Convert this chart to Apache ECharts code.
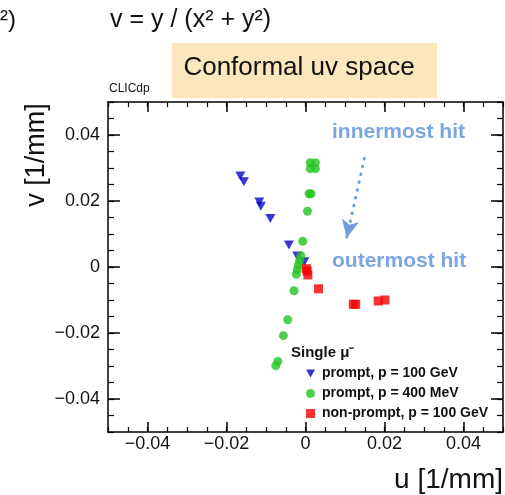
<!DOCTYPE html>
<html>
<head>
<meta charset="utf-8">
<script src="https://cdn.jsdelivr.net/npm/echarts@6/dist/echarts.min.js"></script>
<style>
  html, body { margin: 0; padding: 0; background: #fff; }
  #chart { width: 505px; height: 495px; }
</style>
</head>
<body>
<div id="chart"></div>
<script>
// prompt, p = 100 GeV  [u, v]
var promptHigh = [
  [-0.0165, 0.0276], [-0.0156, 0.0258], [-0.0117, 0.0197], [-0.0113, 0.0184],
  [-0.0089, 0.0147], [-0.0042, 0.0067], [-0.0021, 0.0033], [-0.0003, 0.0016]
];
// prompt, p = 400 MeV
var promptLow = [
  [0.0012, 0.0316], [0.0025, 0.0316], [0.0012, 0.0298], [0.0025, 0.0298],
  [0.0009, 0.0222], [0.0014, 0.0222], [0.0005, 0.0169], [-0.0007, 0.0078],
  [-0.0012, 0.0034], [-0.0015, 0.0020], [-0.0018, 0.0006], [-0.0021, -0.0008],
  [-0.0023, -0.0022], [-0.0029, -0.0072], [-0.0045, -0.0160], [-0.0056, -0.0208],
  [-0.0070, -0.0286], [-0.0075, -0.0299]
];
// non-prompt, p = 100 GeV
var nonPrompt = [
  [0.0002, -0.0005], [0.0004, -0.0012], [0.0006, -0.0024], [0.0033, -0.0066],
  [0.0121, -0.0113], [0.0127, -0.0113], [0.0184, -0.0103], [0.0201, -0.0100]
];
var majorTicks = [-0.04, -0.02, 0, 0.02, 0.04];
var seriesNames = ["prompt, p = 100 GeV", "prompt, p = 400 MeV", "non-prompt, p = 100 GeV"];

var FONT = "Liberation Sans, Arial, Helvetica, sans-serif";
var downTri = "path://M0,0L10,0L5,9Z";

function fmt(v) {
  if (Math.abs(v) < 1e-9) return "0";
  return (v < 0 ? "\u2212" : "") + Math.abs(v).toFixed(2);
}

// minor ticks axis (every 0.005) + major ticks/labels axis, per side
function xAx(pos, major) {
  return {
    type: "value", position: pos, min: -0.05, max: 0.05,
    interval: 0.005,
    axisLine: { show: !major, onZero: false, lineStyle: { color: "#000", width: 1.5 } },
    axisTick: major
      ? { show: true, inside: true, length: 10, customValues: majorTicks, lineStyle: { color: "#000", width: 1.5 } }
      : { show: true, inside: true, length: 5, lineStyle: { color: "#000", width: 1.2 } },
    axisLabel: (major && pos === "bottom")
      ? { show: true, customValues: majorTicks, formatter: fmt, margin: 3, fontSize: 18, color: "#111", fontFamily: FONT }
      : { show: false },
    splitLine: { show: false }
  };
}
function yAx(pos, major) {
  return {
    type: "value", position: pos, min: -0.05, max: 0.05,
    interval: 0.005,
    axisLine: { show: !major, onZero: false, lineStyle: { color: "#000", width: 1.5 } },
    axisTick: major
      ? { show: true, inside: true, length: 12, customValues: majorTicks, lineStyle: { color: "#000", width: 1.5 } }
      : { show: true, inside: true, length: 6, lineStyle: { color: "#000", width: 1.2 } },
    axisLabel: (major && pos === "left")
      ? { show: true, customValues: majorTicks, formatter: fmt, margin: 8, fontSize: 18, color: "#111", fontFamily: FONT }
      : { show: false },
    splitLine: { show: false }
  };
}

var chart = echarts.init(document.getElementById("chart"));
var option = {
  animation: false,
  backgroundColor: "#fff",
  grid: { left: 108, right: 2, top: 102, bottom: 63 },
  xAxis: [xAx("bottom", false), xAx("bottom", true), xAx("top", false), xAx("top", true)],
  yAxis: [yAx("left", false), yAx("left", true), yAx("right", false), yAx("right", true)],
  legend: {
    orient: "vertical", left: 301, top: 361,
    itemWidth: 9, itemHeight: 9, itemGap: 5,
    data: [
      { name: seriesNames[0], icon: downTri },
      { name: seriesNames[1], icon: "circle" },
      { name: seriesNames[2], icon: "rect" }
    ],
    textStyle: { fontSize: 14, fontWeight: "bold", color: "#111", fontFamily: FONT, lineHeight: 15, padding: [0, 0, 0, 2] }
  },
  graphic: [
    { type: "text", style: { text: "\u00b2)", x: 0, y: 20, font: "24px " + FONT, fill: "#111", textVerticalAlign: "middle" } },
    { type: "text", style: { text: "v = y / (x\u00b2 + y\u00b2)", x: 110, y: 20, font: "25px " + FONT, fill: "#111", textVerticalAlign: "middle" } },
    { type: "rect", shape: { x: 172, y: 43, width: 265, height: 55 }, style: { fill: "#fce6bd" } },
    { type: "text", style: { text: "Conformal uv space", x: 299, y: 68, font: "26px " + FONT, fill: "#111", textAlign: "center", textVerticalAlign: "middle" } },
    { type: "text", style: { text: "CLICdp", x: 109, y: 89, font: "12px " + FONT, fill: "#111", textVerticalAlign: "middle" } },
    { type: "text", rotation: Math.PI / 2, x: 37, y: 155, style: { text: "v [1/mm]", x: 0, y: 0, font: "27px " + FONT, fill: "#111", textAlign: "center", textVerticalAlign: "middle" } },
    { type: "text", style: { text: "u [1/mm]", x: 503, y: 480, font: "28px " + FONT, fill: "#111", textAlign: "right", textVerticalAlign: "middle" } },
    { type: "text", style: { text: "innermost hit", x: 332, y: 132, font: "bold 21px " + FONT, fill: "#7ba6e2", textVerticalAlign: "middle" } },
    { type: "text", style: { text: "outermost hit", x: 332, y: 261, font: "bold 21px " + FONT, fill: "#7ba6e2", textVerticalAlign: "middle" } },
    { type: "text", style: { text: "Single \u03bc\u207b", x: 291, y: 353, font: "bold 15px " + FONT, fill: "#111", textVerticalAlign: "middle" } }
  ],
  series: [
    {
      name: seriesNames[0], type: "scatter", xAxisIndex: 0, yAxisIndex: 0,
      symbol: downTri, symbolSize: [10, 9], itemStyle: { color: "#0505c8" },
      data: promptHigh,
      markLine: {
        silent: true, symbol: ["none", "arrow"], symbolSize: [13, 18],
        label: { show: false },
        lineStyle: { color: "#6d9fdb", width: 3, type: [0.5, 7.5], cap: "round" },
        data: [[{ coord: [0.0149, 0.0329] }, { coord: [0.0104, 0.0088] }]]
      }
    },
    {
      name: seriesNames[1], type: "scatter", xAxisIndex: 0, yAxisIndex: 0,
      symbol: "circle", symbolSize: 9, itemStyle: { color: "#22c322" },
      data: promptLow
    },
    {
      name: seriesNames[2], type: "scatter", xAxisIndex: 0, yAxisIndex: 0,
      symbol: "rect", symbolSize: 9, itemStyle: { color: "#f50000" },
      data: nonPrompt
    }
  ]
};
chart.setOption(option);
</script>
</body>
</html>
